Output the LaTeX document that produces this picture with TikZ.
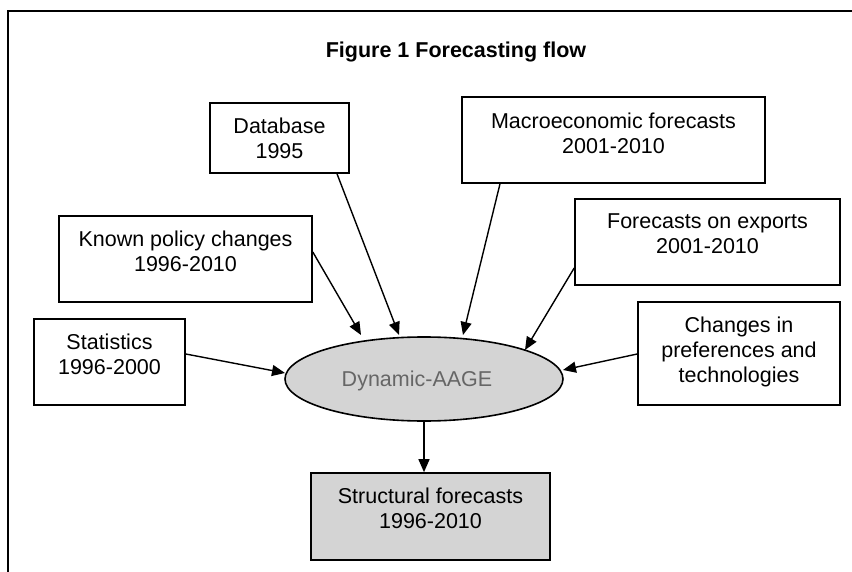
\documentclass[tikz,border=0pt]{standalone}
\usepackage{fontspec}
\setmainfont{Liberation Sans}
\usetikzlibrary{shapes.geometric,arrows.meta}
\begin{document}
\begin{tikzpicture}[x=1pt,y=-1pt,
  box/.style={draw=black,line width=1.6pt,minimum width=#1,inner sep=0pt},
  txt/.style={align=center,inner sep=0pt,anchor=north,font=\fontsize{21.5}{25}\selectfont},
  arr/.style={draw=black,line width=1.4pt,-{Triangle[length=13pt,width=11pt]}},
  shade/.style={fill=black!17}]
\useasboundingbox (0,0) rectangle (852,572);
% frame
\coordinate (fb) at (8,572);
\coordinate (ftl) at (8,11);
\coordinate (fr) at (852,11);
\draw[line width=1.6pt] (fb) -- (ftl) -- (fr);
% title
\node[inner sep=0pt,anchor=base,font=\fontsize{21.5}{25}\selectfont\bfseries] (title) at (456,58) {Figure 1 Forecasting flow};
% boxes
\node[box=139pt,minimum height=70pt] (db) at (279.5,138) {};
\node[txt] (dbt) at ([shift={(0,15.5)}]db.north) {Database\\1995};
\node[box=303pt,minimum height=86pt] (mac) at (613.5,140) {};
\node[txt] (mact) at ([shift={(0,16.5)}]mac.north) {Macroeconomic forecasts\\2001-2010};
\node[box=265pt,minimum height=86pt] (exp) at (707.5,242) {};
\node[txt] (expt) at ([shift={(0,15.5)}]exp.north) {Forecasts on exports\\2001-2010};
\node[box=253pt,minimum height=86pt] (kp) at (185.5,259) {};
\node[txt] (kpt) at ([shift={(0,15.5)}]kp.north) {Known policy changes\\1996-2010};
\node[box=151pt,minimum height=86pt] (stat) at (109.5,362) {};
\node[txt] (statt) at ([shift={(0,15.5)}]stat.north) {Statistics\\1996-2000};
\node[box=202pt,minimum height=103pt] (chg) at (739,353.5) {};
\node[txt] (chgt) at ([shift={(0,15.5)}]chg.north) {Changes in\\preferences and\\technologies};
\node[box=239pt,minimum height=87pt,shade] (sf) at (430.5,516.5) {};
\node[txt] (sft) at ([shift={(0,15.5)}]sf.north) {Structural forecasts\\1996-2010};
% ellipse
\node[ellipse,draw=black,line width=1.6pt,shade,minimum width=278pt,minimum height=84pt,inner sep=0pt] (ell) at (424,379) {};
\node[inner sep=0pt,anchor=base,text=black!60,font=\fontsize{21.5}{25}\selectfont] (ellt) at (417,386) {Dynamic-AAGE};
% arrows
\draw[arr] ([shift={(0,-8)}]stat.east) -- ([shift={(-139,-6)}]ell.center);
\draw[arr] ([shift={(0,-7)}]kp.east) -- ([shift={(-63,-44)}]ell.center);
\draw[arr] ([shift={(57.5,0)}]db.south) -- ([shift={(-25,-44)}]ell.center);
\draw[arr] ([shift={(-113.5,0)}]mac.south) -- ([shift={(39,-44)}]ell.center);
\draw[arr] ([shift={(0,26)}]exp.west) -- ([shift={(101,-29)}]ell.center);
\draw[arr] ([shift={(0,0.5)}]chg.west) -- ([shift={(139,-9)}]ell.center);
\draw[arr] (ell.south) -- (ell.south |- sf.north);
\end{tikzpicture}
\end{document}
